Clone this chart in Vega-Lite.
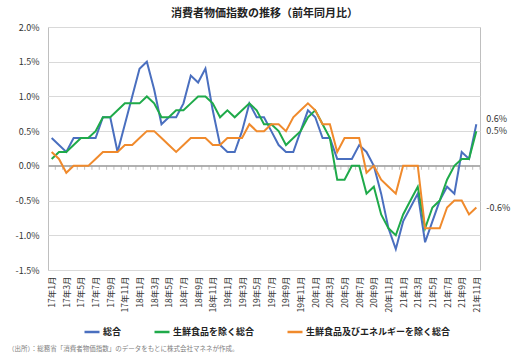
{
  "$schema": "https://vega.github.io/schema/vega-lite/v6.json",
  "autosize": {"type": "none"},
  "width": 432,
  "height": 243,
  "padding": {"left": 48, "top": 27, "right": 46, "bottom": 85},
  "background": "white",
  "config": {
    "font": "Noto Sans CJK JP",
    "view": {"stroke": "#bfbfbf", "strokeWidth": 1}
  },
  "title": {
    "text": "（出所）：総務省「消費者物価指数」のデータをもとに株式会社マネネが作成。",
    "orient": "bottom",
    "anchor": "start",
    "frame": "group",
    "dx": -40,
    "offset": 9,
    "fontSize": 6.5,
    "fontWeight": "normal",
    "color": "#808080"
  },
  "data": {
    "values": [
      {"m": "17年1月", "総合": 0.4, "生鮮食品を除く総合": 0.1, "生鮮食品及びエネルギーを除く総合": 0.2},
      {"m": "17年2月", "総合": 0.3, "生鮮食品を除く総合": 0.2, "生鮮食品及びエネルギーを除く総合": 0.1},
      {"m": "17年3月", "総合": 0.2, "生鮮食品を除く総合": 0.2, "生鮮食品及びエネルギーを除く総合": -0.1},
      {"m": "17年4月", "総合": 0.4, "生鮮食品を除く総合": 0.3, "生鮮食品及びエネルギーを除く総合": 0.0},
      {"m": "17年5月", "総合": 0.4, "生鮮食品を除く総合": 0.4, "生鮮食品及びエネルギーを除く総合": 0.0},
      {"m": "17年6月", "総合": 0.4, "生鮮食品を除く総合": 0.4, "生鮮食品及びエネルギーを除く総合": 0.0},
      {"m": "17年7月", "総合": 0.4, "生鮮食品を除く総合": 0.5, "生鮮食品及びエネルギーを除く総合": 0.1},
      {"m": "17年8月", "総合": 0.7, "生鮮食品を除く総合": 0.7, "生鮮食品及びエネルギーを除く総合": 0.2},
      {"m": "17年9月", "総合": 0.7, "生鮮食品を除く総合": 0.7, "生鮮食品及びエネルギーを除く総合": 0.2},
      {"m": "17年10月", "総合": 0.2, "生鮮食品を除く総合": 0.8, "生鮮食品及びエネルギーを除く総合": 0.2},
      {"m": "17年11月", "総合": 0.6, "生鮮食品を除く総合": 0.9, "生鮮食品及びエネルギーを除く総合": 0.3},
      {"m": "17年12月", "総合": 1.0, "生鮮食品を除く総合": 0.9, "生鮮食品及びエネルギーを除く総合": 0.3},
      {"m": "18年1月", "総合": 1.4, "生鮮食品を除く総合": 0.9, "生鮮食品及びエネルギーを除く総合": 0.4},
      {"m": "18年2月", "総合": 1.5, "生鮮食品を除く総合": 1.0, "生鮮食品及びエネルギーを除く総合": 0.5},
      {"m": "18年3月", "総合": 1.1, "生鮮食品を除く総合": 0.9, "生鮮食品及びエネルギーを除く総合": 0.5},
      {"m": "18年4月", "総合": 0.6, "生鮮食品を除く総合": 0.7, "生鮮食品及びエネルギーを除く総合": 0.4},
      {"m": "18年5月", "総合": 0.7, "生鮮食品を除く総合": 0.7, "生鮮食品及びエネルギーを除く総合": 0.3},
      {"m": "18年6月", "総合": 0.7, "生鮮食品を除く総合": 0.8, "生鮮食品及びエネルギーを除く総合": 0.2},
      {"m": "18年7月", "総合": 0.9, "生鮮食品を除く総合": 0.8, "生鮮食品及びエネルギーを除く総合": 0.3},
      {"m": "18年8月", "総合": 1.3, "生鮮食品を除く総合": 0.9, "生鮮食品及びエネルギーを除く総合": 0.4},
      {"m": "18年9月", "総合": 1.2, "生鮮食品を除く総合": 1.0, "生鮮食品及びエネルギーを除く総合": 0.4},
      {"m": "18年10月", "総合": 1.4, "生鮮食品を除く総合": 1.0, "生鮮食品及びエネルギーを除く総合": 0.4},
      {"m": "18年11月", "総合": 0.8, "生鮮食品を除く総合": 0.9, "生鮮食品及びエネルギーを除く総合": 0.3},
      {"m": "18年12月", "総合": 0.3, "生鮮食品を除く総合": 0.7, "生鮮食品及びエネルギーを除く総合": 0.3},
      {"m": "19年1月", "総合": 0.2, "生鮮食品を除く総合": 0.8, "生鮮食品及びエネルギーを除く総合": 0.4},
      {"m": "19年2月", "総合": 0.2, "生鮮食品を除く総合": 0.7, "生鮮食品及びエネルギーを除く総合": 0.4},
      {"m": "19年3月", "総合": 0.5, "生鮮食品を除く総合": 0.8, "生鮮食品及びエネルギーを除く総合": 0.4},
      {"m": "19年4月", "総合": 0.9, "生鮮食品を除く総合": 0.9, "生鮮食品及びエネルギーを除く総合": 0.6},
      {"m": "19年5月", "総合": 0.7, "生鮮食品を除く総合": 0.8, "生鮮食品及びエネルギーを除く総合": 0.5},
      {"m": "19年6月", "総合": 0.7, "生鮮食品を除く総合": 0.6, "生鮮食品及びエネルギーを除く総合": 0.5},
      {"m": "19年7月", "総合": 0.5, "生鮮食品を除く総合": 0.6, "生鮮食品及びエネルギーを除く総合": 0.6},
      {"m": "19年8月", "総合": 0.3, "生鮮食品を除く総合": 0.5, "生鮮食品及びエネルギーを除く総合": 0.6},
      {"m": "19年9月", "総合": 0.2, "生鮮食品を除く総合": 0.3, "生鮮食品及びエネルギーを除く総合": 0.5},
      {"m": "19年10月", "総合": 0.2, "生鮮食品を除く総合": 0.4, "生鮮食品及びエネルギーを除く総合": 0.7},
      {"m": "19年11月", "総合": 0.5, "生鮮食品を除く総合": 0.5, "生鮮食品及びエネルギーを除く総合": 0.8},
      {"m": "19年12月", "総合": 0.8, "生鮮食品を除く総合": 0.7, "生鮮食品及びエネルギーを除く総合": 0.9},
      {"m": "20年1月", "総合": 0.7, "生鮮食品を除く総合": 0.8, "生鮮食品及びエネルギーを除く総合": 0.8},
      {"m": "20年2月", "総合": 0.4, "生鮮食品を除く総合": 0.6, "生鮮食品及びエネルギーを除く総合": 0.6},
      {"m": "20年3月", "総合": 0.4, "生鮮食品を除く総合": 0.4, "生鮮食品及びエネルギーを除く総合": 0.6},
      {"m": "20年4月", "総合": 0.1, "生鮮食品を除く総合": -0.2, "生鮮食品及びエネルギーを除く総合": 0.2},
      {"m": "20年5月", "総合": 0.1, "生鮮食品を除く総合": -0.2, "生鮮食品及びエネルギーを除く総合": 0.4},
      {"m": "20年6月", "総合": 0.1, "生鮮食品を除く総合": 0.0, "生鮮食品及びエネルギーを除く総合": 0.4},
      {"m": "20年7月", "総合": 0.3, "生鮮食品を除く総合": 0.0, "生鮮食品及びエネルギーを除く総合": 0.4},
      {"m": "20年8月", "総合": 0.2, "生鮮食品を除く総合": -0.4, "生鮮食品及びエネルギーを除く総合": -0.1},
      {"m": "20年9月", "総合": 0.0, "生鮮食品を除く総合": -0.3, "生鮮食品及びエネルギーを除く総合": 0.0},
      {"m": "20年10月", "総合": -0.4, "生鮮食品を除く総合": -0.7, "生鮮食品及びエネルギーを除く総合": -0.2},
      {"m": "20年11月", "総合": -0.9, "生鮮食品を除く総合": -0.9, "生鮮食品及びエネルギーを除く総合": -0.3},
      {"m": "20年12月", "総合": -1.2, "生鮮食品を除く総合": -1.0, "生鮮食品及びエネルギーを除く総合": -0.4},
      {"m": "21年1月", "総合": -0.8, "生鮮食品を除く総合": -0.7, "生鮮食品及びエネルギーを除く総合": 0.0},
      {"m": "21年2月", "総合": -0.6, "生鮮食品を除く総合": -0.5, "生鮮食品及びエネルギーを除く総合": 0.0},
      {"m": "21年3月", "総合": -0.4, "生鮮食品を除く総合": -0.3, "生鮮食品及びエネルギーを除く総合": 0.0},
      {"m": "21年4月", "総合": -1.1, "生鮮食品を除く総合": -0.9, "生鮮食品及びエネルギーを除く総合": -0.9},
      {"m": "21年5月", "総合": -0.8, "生鮮食品を除く総合": -0.6, "生鮮食品及びエネルギーを除く総合": -0.9},
      {"m": "21年6月", "総合": -0.5, "生鮮食品を除く総合": -0.5, "生鮮食品及びエネルギーを除く総合": -0.9},
      {"m": "21年7月", "総合": -0.3, "生鮮食品を除く総合": -0.2, "生鮮食品及びエネルギーを除く総合": -0.6},
      {"m": "21年8月", "総合": -0.4, "生鮮食品を除く総合": 0.0, "生鮮食品及びエネルギーを除く総合": -0.5},
      {"m": "21年9月", "総合": 0.2, "生鮮食品を除く総合": 0.1, "生鮮食品及びエネルギーを除く総合": -0.5},
      {"m": "21年10月", "総合": 0.1, "生鮮食品を除く総合": 0.1, "生鮮食品及びエネルギーを除く総合": -0.7},
      {"m": "21年11月", "総合": 0.6, "生鮮食品を除く総合": 0.5, "生鮮食品及びエネルギーを除く総合": -0.6}
    ]
  },
  "resolve": {"axis": {"x": "independent"}},
  "layer": [
    {
      "mark": {"type": "rule", "color": "#b0b0b0", "strokeWidth": 1},
      "encoding": {"y": {"datum": 0, "type": "quantitative"}}
    },
    {
      "mark": {"type": "tick", "orient": "vertical", "size": 4, "thickness": 1, "color": "#a6a6a6", "yOffset": 2, "xOffset": 3.66},
      "encoding": {
        "x": {
          "field": "m", "type": "nominal", "sort": null,
          "scale": {"type": "point", "padding": 0.5},
          "axis": {"orient": "top", "labels": false, "ticks": false, "domain": false, "grid": false,
            "title": "消費者物価指数の推移（前年同月比）", "titleFontSize": 11, "titleFontWeight": "bold",
            "titleColor": "#222222", "titlePadding": 9}
        },
        "y": {"datum": 0, "type": "quantitative"}
      }
    },
    {
      "transform": [{"fold": ["総合", "生鮮食品を除く総合", "生鮮食品及びエネルギーを除く総合"], "as": ["series", "value"]}],
      "mark": {"type": "line", "strokeWidth": 2},
      "encoding": {
        "x": {
          "field": "m", "type": "nominal", "sort": null,
          "scale": {"type": "point", "padding": 0.5},
          "axis": {"orient": "bottom", "title": null, "domain": false, "ticks": false, "grid": false,
            "labelAngle": 270, "labelFontSize": 8.5, "labelColor": "#333333", "labelPadding": 6,
            "values": ["17年1月","17年3月","17年5月","17年7月","17年9月","17年11月","18年1月","18年3月","18年5月","18年7月","18年9月","18年11月","19年1月","19年3月","19年5月","19年7月","19年9月","19年11月","20年1月","20年3月","20年5月","20年7月","20年9月","20年11月","21年1月","21年3月","21年5月","21年7月","21年9月","21年11月"]}
        },
        "y": {
          "field": "value", "type": "quantitative", "title": null,
          "scale": {"domain": [-1.5, 2.0], "nice": false, "zero": false},
          "axis": {"tickCount": 7, "domain": false, "ticks": false,
            "grid": true, "gridColor": "#d9d9d9", "labelFontSize": 9, "labelColor": "#333333", "labelPadding": 9,
            "labelOverlap": false, "labelFlush": false, "labelBound": false,
            "labelExpr": "(datum.value < 0 ? '-' : '') + format(abs(datum.value), '.1f') + '%'"}
        },
        "color": {
          "field": "series", "type": "nominal",
          "scale": {"domain": ["総合", "生鮮食品を除く総合", "生鮮食品及びエネルギーを除く総合"], "range": ["#4a6fbf", "#1faa4a", "#f08a2c"]},
          "legend": {"orient": "none", "legendX": 35, "legendY": 296, "direction": "horizontal", "title": null,
            "symbolType": "stroke", "symbolStrokeWidth": 2.5, "symbolSize": 225, "labelFontSize": 9,
            "labelFontWeight": "bold", "labelColor": "#222222", "columnPadding": 27, "labelOffset": 2}
        }
      }
    },
    {
      "transform": [
        {"fold": ["総合", "生鮮食品を除く総合", "生鮮食品及びエネルギーを除く総合"], "as": ["series", "value"]},
        {"filter": "datum.m === '21年11月' && datum.series === '総合'"}
      ],
      "mark": {"type": "text", "align": "left", "baseline": "middle", "dx": 10, "dy": -5, "fontSize": 9, "color": "#333333",
        "text": {"expr": "(datum.value < 0 ? '-' : '') + format(abs(datum.value), '.1f') + '%'"}},
      "encoding": {
        "x": {"field": "m", "type": "nominal", "sort": null, "axis": null},
        "y": {"field": "value", "type": "quantitative", "title": null}
      }
    },
    {
      "transform": [
        {"fold": ["総合", "生鮮食品を除く総合", "生鮮食品及びエネルギーを除く総合"], "as": ["series", "value"]},
        {"filter": "datum.m === '21年11月' && datum.series !== '総合'"}
      ],
      "mark": {"type": "text", "align": "left", "baseline": "middle", "dx": 10, "fontSize": 9, "color": "#333333",
        "text": {"expr": "(datum.value < 0 ? '-' : '') + format(abs(datum.value), '.1f') + '%'"}},
      "encoding": {
        "x": {"field": "m", "type": "nominal", "sort": null, "axis": null},
        "y": {"field": "value", "type": "quantitative", "title": null}
      }
    }
  ]
}
